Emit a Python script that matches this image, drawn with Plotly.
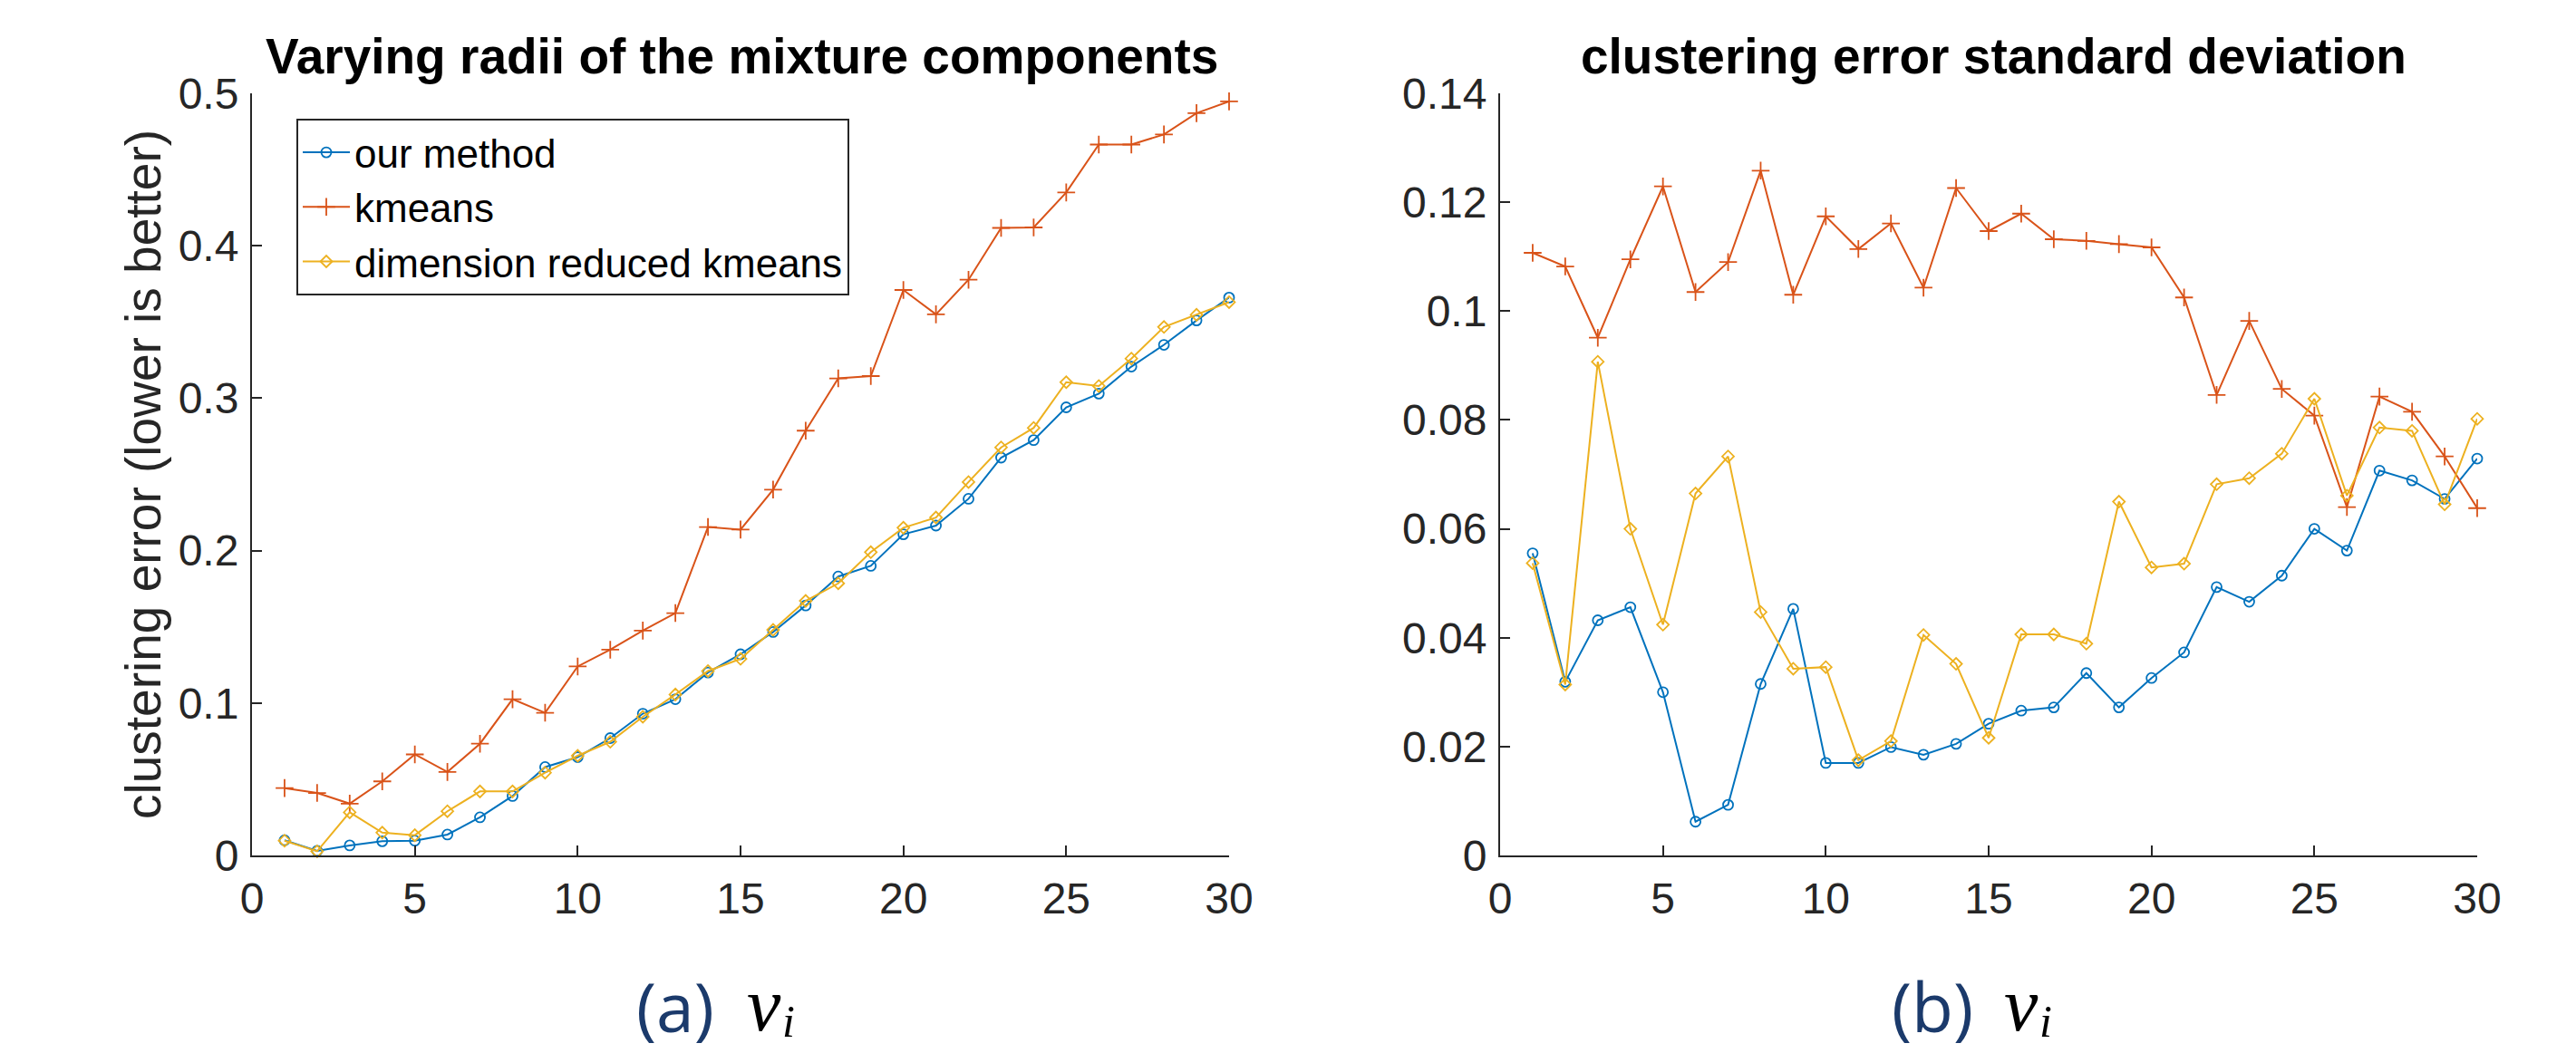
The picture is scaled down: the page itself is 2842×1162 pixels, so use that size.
import plotly.graph_objects as go

x_vals = list(range(1, 31))

# (a) clustering error
err_ours = [0.010, 0.003, 0.0066, 0.0093, 0.0097, 0.0137, 0.025, 0.039, 0.058, 0.0645,
            0.077, 0.093, 0.1025, 0.120, 0.132, 0.1466, 0.164, 0.183, 0.190, 0.2107,
            0.2164, 0.234, 0.261, 0.2725, 0.294, 0.303, 0.3207, 0.335, 0.351, 0.366]
err_kmeans = [0.0442, 0.041, 0.034, 0.0486, 0.0663, 0.0548, 0.0733, 0.1025, 0.0936, 0.124,
              0.135, 0.1475, 0.159, 0.2155, 0.2138, 0.240, 0.2787, 0.313, 0.3145, 0.371,
              0.355, 0.3777, 0.4117, 0.412, 0.435, 0.4664, 0.4664, 0.473, 0.487, 0.4947]
err_drk = [0.0097, 0.0027, 0.0283, 0.015, 0.0133, 0.029, 0.042, 0.042, 0.0543, 0.0654,
           0.0746, 0.091, 0.1056, 0.121, 0.129, 0.148, 0.167, 0.1785, 0.199, 0.215,
           0.2217, 0.245, 0.2677, 0.2805, 0.3105, 0.308, 0.326, 0.3467, 0.3547, 0.363]

# (b) clustering error standard deviation
std_ours = [0.0555, 0.0319, 0.0432, 0.0456, 0.030, 0.0062, 0.0093, 0.0315, 0.0453, 0.017,
            0.017, 0.0199, 0.0185, 0.0205, 0.0242, 0.0266, 0.0272, 0.0335, 0.0272, 0.0326,
            0.0373, 0.0493, 0.0466, 0.0514, 0.060, 0.056, 0.0707, 0.0689, 0.0655, 0.0729]
std_kmeans = [0.1107, 0.1082, 0.0951, 0.1095, 0.1229, 0.1035, 0.109, 0.1258, 0.103, 0.1174,
              0.1114, 0.1161, 0.1043, 0.1226, 0.1147, 0.1179, 0.1132, 0.1129, 0.1123, 0.1117,
              0.1025, 0.0846, 0.0982, 0.0857, 0.0808, 0.064, 0.0843, 0.0815, 0.0733, 0.0638]
std_drk = [0.0537, 0.0314, 0.0907, 0.060, 0.0424, 0.0665, 0.0733, 0.0447, 0.0343, 0.0346,
           0.0175, 0.021, 0.0405, 0.0352, 0.0216, 0.0406, 0.0406, 0.0389, 0.065, 0.0529,
           0.0536, 0.0682, 0.0693, 0.0738, 0.0839, 0.0661, 0.0786, 0.078, 0.0645, 0.0802]

series_names = ["our method", "kmeans", "dimension reduced kmeans"]
title_a = "Varying radii of the mixture components"
title_b = "clustering error standard deviation"
ylabel_a = "clustering error (lower is better)"
caption_labels = ["(a)", "(b)"]
caption_var = "v"
caption_sub = "i"
xticks = [0, 5, 10, 15, 20, 25, 30]
yticks_a = [0, 0.1, 0.2, 0.3, 0.4, 0.5]
yticks_b = [0, 0.02, 0.04, 0.06, 0.08, 0.1, 0.12, 0.14]
yticklabels_a = ["0", "0.1", "0.2", "0.3", "0.4", "0.5"]
yticklabels_b = ["0", "0.02", "0.04", "0.06", "0.08", "0.1", "0.12", "0.14"]

W, H = 2842, 1162
BLUE, ORANGE, YELLOW = "#0072BD", "#D95319", "#EDB120"
AX = "#262626"
NAVY = "#1b3a6b"
FONT = "Liberation Sans, Arial, Helvetica, sans-serif"
SERIF = "Liberation Serif, DejaVu Serif, serif"

styles = [
    dict(color=BLUE, symbol="circle-open", size=11),
    dict(color=ORANGE, symbol="cross-thin-open", size=14),
    dict(color=YELLOW, symbol="diamond-open", size=10),
]

fig = go.Figure()
for name, ys, st in zip(series_names, [err_ours, err_kmeans, err_drk], styles):
    fig.add_trace(go.Scatter(
        x=x_vals, y=ys, mode="lines+markers", name=name,
        line=dict(color=st["color"], width=2),
        marker=dict(symbol=st["symbol"], size=st["size"], color=st["color"],
                    line=dict(color=st["color"], width=1.8)),
        xaxis="x", yaxis="y", showlegend=True, cliponaxis=False))
for name, ys, st in zip(series_names, [std_ours, std_kmeans, std_drk], styles):
    fig.add_trace(go.Scatter(
        x=x_vals, y=ys, mode="lines+markers", name=name,
        line=dict(color=st["color"], width=2),
        marker=dict(symbol=st["symbol"], size=st["size"], color=st["color"],
                    line=dict(color=st["color"], width=1.8)),
        xaxis="x2", yaxis="y2", showlegend=False, cliponaxis=False))

def px_x(p):
    return p / W

def px_y(p):
    return 1 - p / H

ydom = [px_y(944), px_y(103)]
common_axis = dict(showline=True, linecolor=AX, linewidth=2, ticks="inside", ticklen=11,
                   tickwidth=2, tickcolor=AX, showgrid=False, zeroline=False, mirror=False,
                   automargin=False,
                   tickfont=dict(family=FONT, size=48, color=AX))

fig.update_layout(
    width=W, height=H, autosize=False,
    margin=dict(l=0, r=0, t=0, b=0, pad=0, autoexpand=False),
    paper_bgcolor="white", plot_bgcolor="white",
    font=dict(family=FONT, color=AX),
    xaxis=dict(domain=[px_x(278), px_x(1356)], range=[0, 30], tickvals=xticks,
               ticklabelstandoff=4, anchor="y", **common_axis),
    yaxis=dict(domain=ydom, range=[0, 0.5], tickvals=yticks_a, ticktext=yticklabels_a,
               ticklabelstandoff=3, anchor="x",
               title=dict(text=ylabel_a, font=dict(family=FONT, size=55, color=AX), standoff=1),
               **common_axis),
    xaxis2=dict(domain=[px_x(1655), px_x(2733)], range=[0, 30], tickvals=xticks,
                ticklabelstandoff=4, anchor="y2", **common_axis),
    yaxis2=dict(domain=ydom, range=[0, 0.14], tickvals=yticks_b, ticktext=yticklabels_b,
                ticklabelstandoff=3, anchor="x2", **common_axis),
    legend=dict(x=px_x(327), y=px_y(131), xanchor="left", yanchor="top",
                bgcolor="white", bordercolor=AX, borderwidth=2,
                font=dict(family=FONT, size=44, color="black"),
                itemwidth=52, tracegroupgap=0),
    showlegend=True,
)

annotations = [
    dict(text="<b>" + title_a + "</b>", x=px_x(818), y=px_y(62), xref="paper", yref="paper",
         xanchor="center", yanchor="middle", showarrow=False,
         font=dict(family=FONT, size=55, color="black")),
    dict(text="<b>" + title_b + "</b>", x=px_x(2199), y=px_y(62), xref="paper", yref="paper",
         xanchor="center", yanchor="middle", showarrow=False,
         font=dict(family=FONT, size=55, color="black")),
]
for lab, dx in zip(caption_labels, [0, 1387]):
    annotations.append(dict(
        text=lab, x=px_x(745 + dx), y=px_y(1110), xref="paper", yref="paper",
        xanchor="center", yanchor="middle", showarrow=False,
        font=dict(family="Open Sans, Noto Sans, sans-serif", size=75, color=NAVY)))
    annotations.append(dict(
        text="<i>" + caption_var + "</i>", x=px_x(843 + dx), y=px_y(1108), xref="paper", yref="paper",
        xanchor="center", yanchor="middle", showarrow=False,
        font=dict(family=SERIF, size=84, color="black")))
    annotations.append(dict(
        text="<i>" + caption_sub + "</i>", x=px_x(870 + dx), y=px_y(1127), xref="paper", yref="paper",
        xanchor="center", yanchor="middle", showarrow=False,
        font=dict(family=SERIF, size=50, color="black")))
fig.update_layout(annotations=annotations)

fig.write_html("out.html", config={"displayModeBar": False},
               post_script="document.body.style.margin='0';document.body.style.overflow='hidden';")
